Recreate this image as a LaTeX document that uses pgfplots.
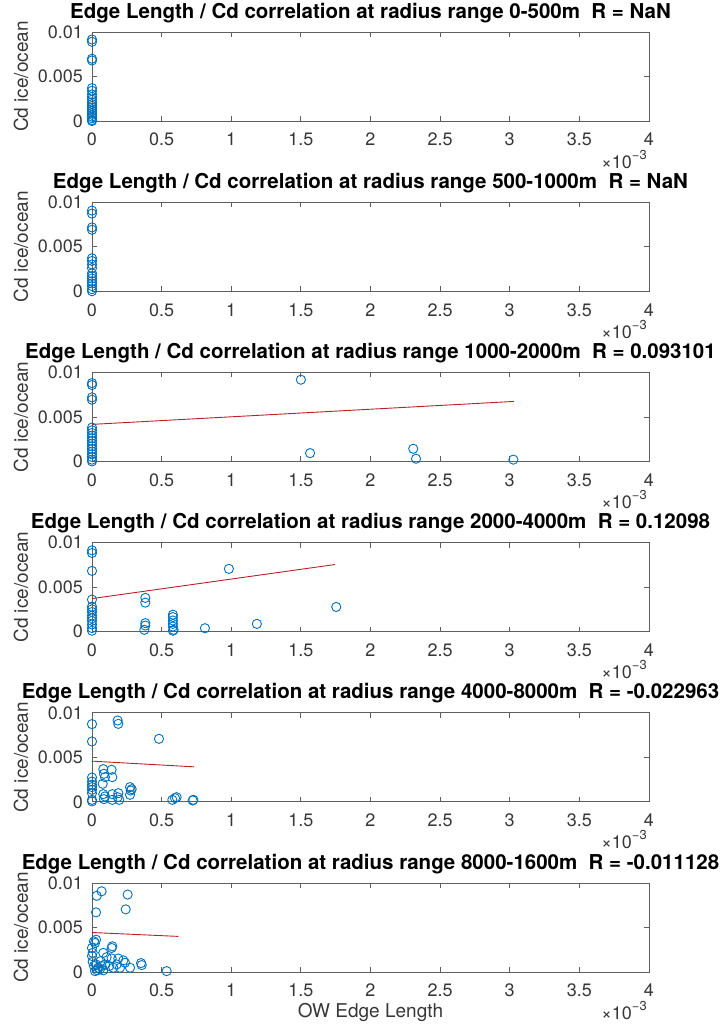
\documentclass[border=0pt]{standalone}
\usepackage{fontspec}
\setmainfont{TeX Gyre Heros}
\usepackage{pgfplots}
\pgfplotsset{compat=1.18}

\definecolor{mblue}{rgb}{0,0.447,0.741}
\definecolor{mred}{RGB}{190,30,40}
\definecolor{axgray}{RGB}{95,95,95}
\definecolor{txgray}{RGB}{55,55,55}

\pgfplotsset{
  panel/.style={
    scale only axis, width=557pt, height=89pt,
    anchor=north west, clip=false,
    xmin=0, xmax=0.004, ymin=0, ymax=0.01,
    xtick={0,0.0005,0.001,0.0015,0.002,0.0025,0.003,0.0035,0.004},
    xticklabels={0,0.5,1,1.5,2,2.5,3,3.5,4},
    ytick={0,0.005,0.01}, yticklabels={0,0.005,0.01},
    scaled x ticks=false, scaled y ticks=false,
    tick align=inside, major tick length=5pt,
    axis line style={axgray, line width=0.8pt},
    tick style={axgray, line width=0.8pt},
    tick label style={font=\fontsize{18}{20}\selectfont, text=txgray, inner sep=0pt},
    xticklabel style={anchor=north, yshift=-12pt},
    yticklabel style={anchor=east, xshift=-9pt},
    ylabel={Cd ice/ocean},
    ylabel style={at={(axis description cs:-0.1275,0.5)}, anchor=center,
      font=\fontsize{19}{22}\selectfont, text=txgray},
    title style={at={(axis description cs:0.5,1)}, anchor=base, yshift=8pt,
      inner sep=0pt, font=\fontsize{20.5}{24}\selectfont\bfseries},
  },
  pts/.style={only marks, mark=o, mark size=4.6pt, mblue, line width=0.9pt},
  fit/.style={no marks, mred, line width=0.9pt},
}

\newcommand{\xscale}{%
  \node[anchor=base east, xshift=-2pt, yshift=-47pt, inner sep=0pt,
    font=\fontsize{18}{20}\selectfont, text=txgray]
    at (rel axis cs:1,0) {×10\raisebox{0.5em}{\fontsize{13}{15}\selectfont −3}};}

\begin{document}
\begin{tikzpicture}

% 0-500m
\begin{axis}[panel, at={(0pt,0pt)},
  title={Edge Length / Cd correlation at radius range 0-500m~~R = NaN}]
\addplot[pts] coordinates {
(0,0.00916) (0,0.0089) (0,0.0070) (0,0.0068) (0,0.0037) (0,0.0034) (0,0.0030)
(0,0.0027) (0,0.0024) (0,0.0021) (0,0.0019) (0,0.0017) (0,0.0015) (0,0.0013)
(0,0.0011) (0,0.0009) (0,0.0007) (0,0.0005) (0,0.0003) (0,0.0001) (0,0)};
\xscale
\end{axis}

% 500-1000m
\begin{axis}[panel, at={(0pt,-170.2pt)},
  title={Edge Length / Cd correlation at radius range 500-1000m~~R = NaN}]
\addplot[pts] coordinates {
(0,0.00906) (0,0.00872) (0,0.00717) (0,0.0069) (0,0.0037) (0,0.0034) (0,0.0030)
(0,0.0026) (0,0.0020) (0,0.0017) (0,0.00143) (0,0.00113) (0,0.00087) (0,0.00057)
(0,0.00023) (0,0)};
\xscale
\end{axis}

% 1000-2000m
\begin{axis}[panel, at={(0pt,-340.4pt)},
  title={Edge Length / Cd correlation at radius range 1000-2000m~~R = 0.093101}]
\addplot[pts] coordinates {
(0,0.0088) (0,0.00858) (0,0.0072) (0,0.00693) (0,0.0038) (0,0.0035) (0,0.0032)
(0,0.0029) (0,0.0026) (0,0.0023) (0,0.0020) (0,0.0017) (0,0.0014) (0,0.0011)
(0,0.0008) (0,0.0005) (0,0.0002) (0,0)
(0.00150,0.00918) (0.001566,0.00093) (0.002307,0.00142) (0.002327,0.0003)
(0.003026,0.0002)};
\addplot[fit] coordinates {(0,0.00416) (0.00303,0.00674)};
\xscale
\end{axis}

% 2000-4000m
\begin{axis}[panel, at={(0pt,-510.6pt)},
  title={Edge Length / Cd correlation at radius range 2000-4000m~~R = 0.12098}]
\addplot[pts] coordinates {
(0,0.00913) (0,0.00883) (0,0.00682) (0,0.0036) (0,0.0028) (0,0.0025) (0,0.0022)
(0,0.0018) (0,0.0015) (0,0.0012) (0,0.0008) (0,0.0004) (0,0.0001)
(0.000383,0.00379) (0.000383,0.00326) (0.000383,0.00095) (0.000383,0.00068)
(0.000376,0.0002)
(0.000581,0.0019) (0.000581,0.00163) (0.000581,0.00125) (0.000581,0.00087)
(0.000581,0.00057) (0.000581,0.0001) (0.000586,0.0002)
(0.000811,0.00038) (0.000983,0.00705) (0.001184,0.00087) (0.001754,0.00277)};
\addplot[fit] coordinates {(0,0.00371) (0.001746,0.00754)};
\xscale
\end{axis}

% 4000-8000m
\begin{axis}[panel, at={(0pt,-680.8pt)},
  title={Edge Length / Cd correlation at radius range 4000-8000m~~R = -0.022963}]
\addplot[pts] coordinates {
(0,0.00873) (0,0.00678) (0.000184,0.00914) (0.000189,0.00876) (0.000481,0.00708)
(0,0.00273) (0,0.00228) (0,0.00191) (0,0.00165) (0,0.00135) (0,0.00097)
(0,0.00022) (0,0.00005)
(0.000081,0.00367) (0.000086,0.00315) (0.000093,0.00277) (0.000077,0.00202)
(0.000141,0.00360) (0.000146,0.00277) (0.000081,0.00086) (0.000086,0.0003)
(0.000146,0.00086) (0.000146,0.00022) (0.000189,0.00097) (0.000196,0.00022)
(0.000184,0.00052) (0.000093,0.0006)
(0.000273,0.00165) (0.000278,0.00127) (0.000285,0.00142) (0.000273,0.00079)
(0.000577,0.00022) (0.000596,0.00041) (0.000608,0.00052)
(0.000723,0.00015) (0.000728,0.00022)};
\addplot[fit] coordinates {(0,0.00457) (0.000733,0.00393)};
\xscale
\end{axis}

% 8000-1600m
\begin{axis}[panel, at={(0pt,-851pt)},
  title={Edge Length / Cd correlation at radius range 8000-1600m~~R = -0.011128},
  xlabel={OW Edge Length},
  xlabel style={at={(axis description cs:0.5,0)}, anchor=center, yshift=-40pt,
    font=\fontsize{19}{22}\selectfont, text=txgray}]
\addplot[pts] coordinates {
(0.000034,0.00856) (0.000069,0.00907) (0.000256,0.0087) (0.000029,0.0067)
(0.000242,0.00704) (0.000536,0.0001) (0.000357,0.00078) (0.000352,0.0010)
(0.000014,0.00344) (0.000029,0.00363) (0.000022,0.00326) (0,0.0027)
(0.000141,0.0027) (0.000146,0.00289) (0.000081,0.00215) (0.000105,0.00167)
(0.000141,0.00152) (0.000189,0.00152) (0.000225,0.0013) (0.000237,0.00104)
(0.000273,0.00048)
(0.000005,0.00115) (0.000014,0.00067) (0.000029,0.00085) (0.000045,0.00048)
(0.000057,0.0003) (0.000069,0.00067) (0.000081,0.00019) (0.000093,0.00085)
(0.000038,0.00019) (0.000022,0.0001) (0.000062,0.00122) (0.000124,0.00067)
(0.000153,0.00048) (0.000177,0.00085) (0.000201,0.00048) (0,0.0018)
(0.000005,0.00215)};
\addplot[fit] coordinates {(0,0.00444) (0.00062,0.0040)};
\xscale
\end{axis}

\pgfresetboundingbox
\useasboundingbox (-92pt,32pt) rectangle (630pt,-994pt);
\end{tikzpicture}
\end{document}
